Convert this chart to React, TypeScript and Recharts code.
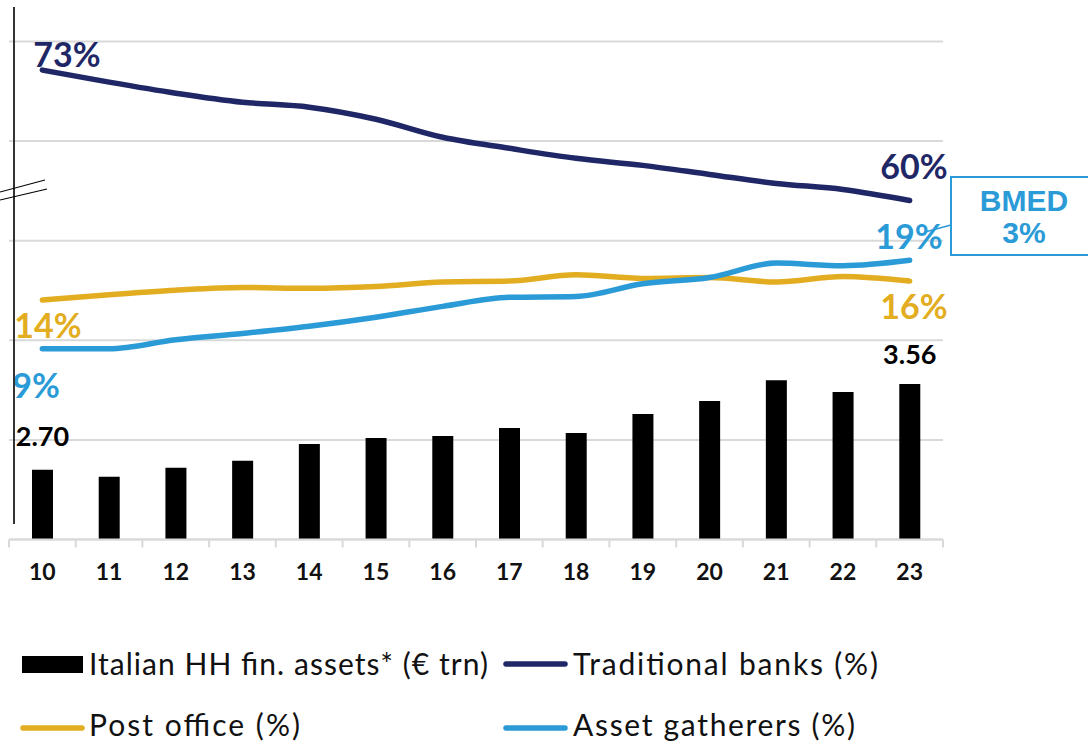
import React from 'react';
import { ComposedChart, Bar, Line, XAxis, YAxis, CartesianGrid, LabelList } from 'recharts';

const YEARS = ['10', '11', '12', '13', '14', '15', '16', '17', '18', '19', '20', '21', '22', '23'];
// Italian household financial assets, € trn
const HH_ASSETS = [2.7, 2.63, 2.72, 2.79, 2.96, 3.02, 3.04, 3.12, 3.07, 3.26, 3.39, 3.6, 3.48, 3.56];
// market shares, %
const TRADITIONAL_BANKS = [73.0, 71.8, 70.7, 69.8, 69.3, 68.1, 66.3, 65.2, 64.2, 63.5, 62.6, 61.7, 61.1, 60.0];
const POST_OFFICE = [14.3, 14.9, 15.4, 15.7, 15.6, 15.8, 16.3, 16.4, 17.1, 16.7, 16.8, 16.3, 16.9, 16.4];
const ASSET_GATHERERS = [8.9, 8.9, 9.9, 10.6, 11.4, 12.4, 13.6, 14.6, 14.7, 16.1, 16.8, 18.4, 18.1, 18.7];
const ASSET_TICKS = [2, 3, 4, 5, 6, 7];
const BMED_SHARE = '3%';

const NAVY = '#1f2766';
const GOLD = '#e3ad21';
const BLUE = '#2a9bd7';
const GRID = '#d9d9d9';
const FONT = 'Lato, "Noto Sans", sans-serif';

const W = 1088;
const H = 742;
const PLOT_LEFT = 9;
const PLOT_RIGHT = 943;
const BAND = (PLOT_RIGHT - PLOT_LEFT) / YEARS.length;

const data = YEARS.map((year, i) => ({
  year,
  assets: HH_ASSETS[i],
  banks: TRADITIONAL_BANKS[i],
  post: POST_OFFICE[i],
  gatherers: ASSET_GATHERERS[i],
}));

const last = YEARS.length - 1;

// label placement for first / last point of each line
const endLabel = (
  color: string,
  first: { dx: number; dy: number; anchor: string },
  end: { dx: number; dy: number; anchor: string }
) => (props: any) => {
  const { x, y, value, index } = props;
  if (index !== 0 && index !== last) return null;
  const p = index === 0 ? first : end;
  return (
    <text
      x={x + p.dx}
      y={y + p.dy}
      textAnchor={p.anchor as any}
      fill={color}
      fontFamily={FONT}
      fontWeight={700}
      fontSize={34}
    >
      {Math.round(value)}%
    </text>
  );
};

const barLabel = (props: any) => {
  const { x, y, width, value, index } = props;
  if (index !== 0 && index !== last) return null;
  return (
    <text
      x={x + width / 2}
      y={y - (index === 0 ? 24 : 20)}
      textAnchor="middle"
      fill="#000"
      fontFamily={FONT}
      fontWeight={700}
      fontSize={27}
    >
      {Number(value).toFixed(2)}
    </text>
  );
};

const YearTick = (props: any) => {
  const { x, y, payload, index } = props;
  return (
    <g>
      <line x1={x - BAND / 2} x2={x - BAND / 2} y1={y} y2={y + 8} stroke={GRID} strokeWidth={2} />
      {index === last && (
        <line x1={x + BAND / 2} x2={x + BAND / 2} y1={y} y2={y + 8} stroke={GRID} strokeWidth={2} />
      )}
      <text x={x} y={y + 40} textAnchor="middle" fill="#111" fontFamily={FONT} fontWeight={700} fontSize={23}>
        {payload.value}
      </text>
    </g>
  );
};

export default function App() {
  return (
    <div style={{ position: 'absolute', left: 0, top: 0, width: W, height: H, overflow: 'hidden', background: '#fff' }}>
      <ComposedChart
        width={W}
        height={600}
        data={data}
        margin={{ top: 41.5, right: W - PLOT_RIGHT, bottom: 22, left: PLOT_LEFT }}
      >
        <CartesianGrid yAxisId="assets" horizontal vertical={false} stroke={GRID} strokeWidth={2} />
        <XAxis
          dataKey="year"
          height={38.5}
          axisLine={{ stroke: GRID, strokeWidth: 2 }}
          tickLine={false}
          tickSize={0}
          tickMargin={0}
          interval={0}
          tick={<YearTick />}
        />
        <YAxis yAxisId="assets" hide domain={[2, 7]} ticks={ASSET_TICKS} allowDataOverflow />
        <YAxis yAxisId="banks" hide domain={[26.2, 75.85]} allowDataOverflow />
        <YAxis yAxisId="share" hide domain={[-12.22, 42.94]} allowDataOverflow />
        <Bar yAxisId="assets" dataKey="assets" fill="#000" barSize={21} isAnimationActive={false}>
          <LabelList dataKey="assets" content={barLabel} />
        </Bar>
        <Line
          yAxisId="banks"
          type="monotone"
          dataKey="banks"
          stroke={NAVY}
          strokeWidth={5.5}
          strokeLinecap="round"
          dot={false}
          isAnimationActive={false}
        >
          <LabelList
            dataKey="banks"
            content={endLabel(NAVY, { dx: -9, dy: -3, anchor: 'start' }, { dx: 38, dy: -21, anchor: 'end' })}
          />
        </Line>
        <Line
          yAxisId="share"
          type="monotone"
          dataKey="post"
          stroke={GOLD}
          strokeWidth={5.5}
          strokeLinecap="round"
          dot={false}
          isAnimationActive={false}
        >
          <LabelList
            dataKey="post"
            content={endLabel(GOLD, { dx: -28, dy: 38, anchor: 'start' }, { dx: 38, dy: 38, anchor: 'end' })}
          />
        </Line>
        <Line
          yAxisId="share"
          type="monotone"
          dataKey="gatherers"
          stroke={BLUE}
          strokeWidth={5.5}
          strokeLinecap="round"
          dot={false}
          isAnimationActive={false}
        >
          <LabelList
            dataKey="gatherers"
            content={endLabel(BLUE, { dx: -30, dy: 49, anchor: 'start' }, { dx: 33, dy: -11, anchor: 'end' })}
          />
        </Line>
      </ComposedChart>

      <svg
        width={W}
        height={H}
        style={{ position: 'absolute', left: 0, top: 0, pointerEvents: 'none' }}
      >
        {/* broken vertical axis */}
        <line x1={14} x2={14} y1={7} y2={524} stroke="#333" strokeWidth={2} />
        <line x1={0} y1={192} x2={45} y2={180} stroke="#000" strokeWidth={1.2} />
        <line x1={0} y1={200} x2={47} y2={189} stroke="#000" strokeWidth={1.2} />

        {/* BMED callout */}
        <line x1={951} y1={225} x2={925} y2={232} stroke={BLUE} strokeWidth={1.5} />
        <rect x={951} y={177} width={160} height={78} fill="#fff" stroke={BLUE} strokeWidth={2} />
        <text x={1024} y={211} textAnchor="middle" fill={BLUE} fontFamily="'Liberation Sans', Arial, sans-serif" fontWeight={700} fontSize={30}>
          BMED
        </text>
        <text x={1024} y={243} textAnchor="middle" fill={BLUE} fontFamily="'Liberation Sans', Arial, sans-serif" fontWeight={700} fontSize={30}>
          {BMED_SHARE}
        </text>

        {/* legend */}
        <g fontFamily={FONT} fontSize={30} fill="#111">
          <rect x={22} y={656} width={61} height={17} fill="#000" />
          <text x={89} y={675} textLength={399} lengthAdjust="spacing">Italian HH fin. assets* (€ trn)</text>
          <line x1={506} x2={565} y1={664} y2={664} stroke={NAVY} strokeWidth={5.5} strokeLinecap="round" />
          <text x={573} y={675} textLength={305} lengthAdjust="spacing">Traditional banks (%)</text>
          <line x1={23} x2={82} y1={728} y2={728} stroke={GOLD} strokeWidth={5.5} strokeLinecap="round" />
          <text x={89} y={736} textLength={211} lengthAdjust="spacing">Post office (%)</text>
          <line x1={506} x2={565} y1={728} y2={728} stroke={BLUE} strokeWidth={5.5} strokeLinecap="round" />
          <text x={573} y={736} textLength={282} lengthAdjust="spacing">Asset gatherers (%)</text>
        </g>
      </svg>
    </div>
  );
}
